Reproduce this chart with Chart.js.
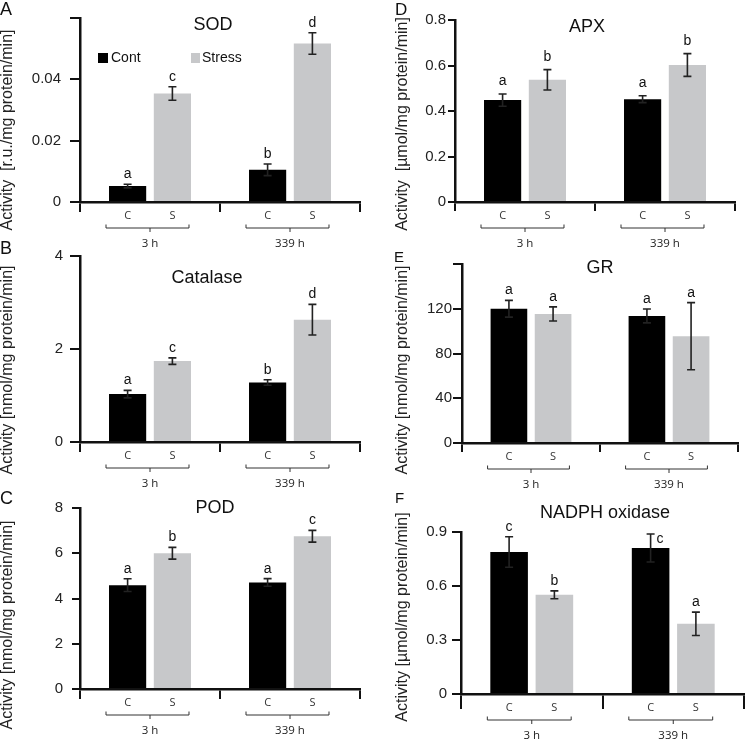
<!DOCTYPE html>
<html>
<head>
<meta charset="utf-8">
<script src="https://cdn.jsdelivr.net/npm/chart.js@4.4.1/dist/chart.umd.min.js"></script>
<style>
body { margin: 0; background: #fff; }
#wrap { position: relative; width: 750px; height: 742px; overflow: hidden; }
canvas { position: absolute; }
</style>
</head>
<body>
<div id="wrap"></div>
<script>
// groups on the x axis and the treatment under each bar
const groups = ['3 h', '339 h'];
const subLabels = ['C', 'S'];
const seriesNames = ['Cont', 'Stress'];

// SOD
const sodCont = [0.0052, 0.0105];
const sodContErr = [0.0006, 0.0019];
const sodStress = [0.0354, 0.0517];
const sodStressErr = [0.0022, 0.0035];
const sodLetters = [['a', 'b'], ['c', 'd']];

// Catalase
const catCont = [1.03, 1.28];
const catContErr = [0.08, 0.06];
const catStress = [1.74, 2.63];
const catStressErr = [0.07, 0.33];
const catLetters = [['a', 'b'], ['c', 'd']];

// POD
const podCont = [4.59, 4.71];
const podContErr = [0.28, 0.17];
const podStress = [6.0, 6.75];
const podStressErr = [0.26, 0.26];
const podLetters = [['a', 'a'], ['b', 'c']];

// APX
const apxCont = [0.448, 0.452];
const apxContErr = [0.027, 0.015];
const apxStress = [0.537, 0.602];
const apxStressErr = [0.045, 0.05];
const apxLetters = [['a', 'a'], ['b', 'b']];

// GR
const grCont = [120, 113.6];
const grContErr = [7.5, 6.2];
const grStress = [115.4, 95.5];
const grStressErr = [6.3, 30];
const grLetters = [['a', 'a'], ['a', 'a']];

// NADPH oxidase
const noxCont = [0.789, 0.811];
const noxContErr = [0.085, 0.078];
const noxStress = [0.551, 0.39];
const noxStressErr = [0.022, 0.065];
const noxLetters = [['c', 'c'], ['b', 'a']];

const W = 375, H = 252;
const BLACK = '#000000', GREY = '#c7c8ca';

const panels = [
  { letter: 'A', letterFont: 18, letterPos: [0, 10], title: 'SOD', titlePos: [213, 25],
    yTitle: 'Activity  [r.u./mg protein/min]', yTitlePos: [8, 130],
    left: 0, top: 0, area: { l: 80, t: 11, r: 360, b: 202 },
    max: 0.06, step: 0.02, hideTop: true, yTick: 10, yPad: 9, xTick: 10,
    data: [sodCont, sodStress], err: [sodContErr, sodStressErr], letters: sodLetters, legend: true },
  { letter: 'B', letterFont: 18, letterPos: [0, 9], title: 'Catalase', titlePos: [207, 38],
    yTitle: 'Activity [nmol/mg protein/min]', yTitlePos: [8, 130],
    left: 0, top: 240, area: { l: 80, t: 11, r: 360, b: 202 },
    max: 4, step: 2, hideTop: false, yTick: 10, yPad: 7, xTick: 10,
    data: [catCont, catStress], err: [catContErr, catStressErr], letters: catLetters },
  { letter: 'C', letterFont: 18, letterPos: [0, 9], title: 'POD', titlePos: [215, 18],
    yTitle: 'Activity [nmol/mg protein/min]', yTitlePos: [8, 135],
    left: 0, top: 490, area: { l: 80, t: 9, r: 360, b: 199 },
    max: 8, step: 2, hideTop: false, yTick: 8, yPad: 9, xTick: 10,
    data: [podCont, podStress], err: [podContErr, podStressErr], letters: podLetters },
  { letter: 'D', letterFont: 17, letterPos: [20, 10], title: 'APX', titlePos: [212, 27],
    yTitle: 'Activity  [\u00b5mol/mg protein/min]', yTitlePos: [28, 124],
    left: 375, top: 0, area: { l: 80, t: 20, r: 360, b: 202 },
    max: 0.8, step: 0.2, hideTop: false, yTick: 7, yPad: 2, xTick: 9,
    data: [apxCont, apxStress], err: [apxContErr, apxStressErr], letters: apxLetters, letterGap: 9 },
  { letter: 'E', letterFont: 15, letterPos: [19, 18], title: 'GR', titlePos: [225, 28],
    yTitle: 'Activity [nmol/mg protein/min]', yTitlePos: [28, 130],
    left: 375, top: 240, area: { l: 87, t: 24, r: 363, b: 203 },
    max: 160, step: 40, hideTop: true, yTick: 9, yPad: 1, xTick: 9,
    data: [grCont, grStress], err: [grContErr, grStressErr], letters: grLetters },
  { letter: 'F', letterFont: 15, letterPos: [20, 9], title: 'NADPH oxidase', titlePos: [230, 23],
    yTitle: 'Activity [\u00b5mol/mg protein/min]', yTitlePos: [28, 127],
    left: 375, top: 490, area: { l: 86, t: 42, r: 369, b: 204 },
    max: 0.9, step: 0.3, hideTop: false, yTick: 9, yPad: 5, xTick: 15,
    data: [noxCont, noxStress], err: [noxContErr, noxStressErr], letters: noxLetters,
    sideLetter: [[false, true], [false, false]] }
];

Chart.defaults.font.family = "'Liberation Sans', Arial, sans-serif";
Chart.defaults.color = '#222';

function makeDecor(p) {
  return {
    id: 'decor',
    afterDraw(chart) {
      const ctx = chart.ctx;
      const ys = chart.scales.y, xs = chart.scales.x;
      const zero = ys.getPixelForValue(0);
      ctx.save();

      // error bars + significance letters
      for (let i = 0; i < 2; i++) {
        const meta = chart.getDatasetMeta(i);
        meta.data.forEach((bar, j) => {
          const v = p.data[i][j], e = p.err[i][j];
          const yt = ys.getPixelForValue(v + e), yb = ys.getPixelForValue(v - e);
          ctx.strokeStyle = '#222';
          ctx.lineWidth = 1.6;
          ctx.beginPath();
          ctx.moveTo(bar.x, yt); ctx.lineTo(bar.x, yb);
          ctx.moveTo(bar.x - 4, yt); ctx.lineTo(bar.x + 4, yt);
          ctx.moveTo(bar.x - 4, yb); ctx.lineTo(bar.x + 4, yb);
          ctx.stroke();

          ctx.fillStyle = '#111';
          ctx.font = "14px 'Liberation Sans', Arial, sans-serif";
          const side = p.sideLetter && p.sideLetter[i][j];
          if (side) {
            ctx.textAlign = 'left';
            ctx.textBaseline = 'alphabetic';
            ctx.fillText(p.letters[i][j], bar.x + 6, yt + 9);
          } else {
            ctx.textAlign = 'center';
            ctx.textBaseline = 'alphabetic';
            ctx.fillText(p.letters[i][j], bar.x, yt - (p.letterGap || 6));
          }
        });
      }

      // C / S under bars and the group brackets
      ctx.font = "11px 'Open Sans', sans-serif";
      ctx.fillStyle = '#333';
      ctx.textAlign = 'center';
      ctx.textBaseline = 'middle';
      const m0 = chart.getDatasetMeta(0), m1 = chart.getDatasetMeta(1);
      groups.forEach((g, j) => {
        const bc = m0.data[j], bs = m1.data[j];
        ctx.fillText(subLabels[0], bc.x, zero + 14);
        ctx.fillText(subLabels[1], bs.x, zero + 14);
        const x1 = bc.x - bc.width / 2 - 3, x2 = bs.x + bs.width / 2 - 2;
        const yb = zero + 26;
        const xm = xs.getPixelForValue(j);
        ctx.strokeStyle = '#333';
        ctx.lineWidth = 1;
        ctx.beginPath();
        ctx.moveTo(x1, yb - 3.5); ctx.lineTo(x1, yb); ctx.lineTo(x2, yb); ctx.lineTo(x2, yb - 3.5);
        ctx.moveTo(xm, yb); ctx.lineTo(xm, yb + 4);
        ctx.stroke();
      });

      // panel title
      ctx.fillStyle = '#111';
      ctx.font = "18px 'Liberation Sans', Arial, sans-serif";
      ctx.textAlign = 'center';
      ctx.textBaseline = 'middle';
      ctx.fillText(p.title, p.titlePos[0], p.titlePos[1]);

      // panel letter
      ctx.font = p.letterFont + "px 'Liberation Sans', Arial, sans-serif";
      ctx.textAlign = 'left';
      ctx.fillText(p.letter, p.letterPos[0], p.letterPos[1]);

      // y axis title
      ctx.save();
      ctx.translate(p.yTitlePos[0], p.yTitlePos[1]);
      ctx.rotate(-Math.PI / 2);
      ctx.font = "16px 'Liberation Sans', Arial, sans-serif";
      ctx.fillStyle = '#222';
      ctx.textAlign = 'center';
      ctx.textBaseline = 'middle';
      ctx.fillText(p.yTitle, 0, 0);
      ctx.restore();

      // legend (panel A only)
      if (p.legend) {
        ctx.font = "14px 'Liberation Sans', Arial, sans-serif";
        ctx.textAlign = 'left';
        ctx.textBaseline = 'middle';
        ctx.fillStyle = BLACK;
        ctx.fillRect(98, 53, 10, 10);
        ctx.fillStyle = '#111';
        ctx.fillText(seriesNames[0], 111, 58);
        ctx.fillStyle = GREY;
        ctx.fillRect(191, 53, 9, 10);
        ctx.fillStyle = '#111';
        ctx.fillText(seriesNames[1], 202, 58);
      }
      ctx.restore();
    }
  };
}

const wrap = document.getElementById('wrap');
panels.forEach(p => {
  const cv = document.createElement('canvas');
  cv.width = W; cv.height = H;
  cv.style.left = p.left + 'px';
  cv.style.top = p.top + 'px';
  cv.style.width = W + 'px';
  cv.style.height = H + 'px';
  wrap.appendChild(cv);

  new Chart(cv.getContext('2d'), {
    type: 'bar',
    data: {
      labels: groups,
      datasets: [
        { label: seriesNames[0], data: p.data[0], backgroundColor: BLACK, borderWidth: 0 },
        { label: seriesNames[1], data: p.data[1], backgroundColor: GREY, borderWidth: 0 }
      ]
    },
    options: {
      responsive: false,
      animation: false,
      devicePixelRatio: 1,
      categoryPercentage: 0.64,
      barPercentage: 0.83,
      layout: { padding: { left: 0, top: p.area.t, right: W - p.area.r, bottom: 0 } },
      plugins: { legend: { display: false }, tooltip: { enabled: false } },
      scales: {
        x: {
          z: 1,
          grid: { offset: true, drawOnChartArea: false, tickLength: p.xTick, color: '#111', lineWidth: 2 },
          border: { color: '#111', width: 2.5 },
          ticks: { padding: 42 - p.xTick - 7, font: { family: "'Open Sans', sans-serif", size: 11.5 }, color: '#222' },
          afterFit(s) { s.height = H - p.area.b; }
        },
        y: {
          z: 1,
          min: 0,
          max: p.max,
          grid: { drawOnChartArea: false, tickLength: p.yTick, color: '#111', lineWidth: 2 },
          border: { color: '#111', width: 2.5 },
          ticks: {
            stepSize: p.step,
            padding: p.yPad,
            font: { size: 15 },
            color: '#222',
            callback(v) {
              if (p.hideTop && Math.abs(v - p.max) < 1e-9) return '';
              return String(Math.round(v * 1000) / 1000);
            }
          },
          afterFit(s) { s.width = p.area.l; }
        }
      }
    },
    plugins: [makeDecor(p)]
  });
});
</script>
</body>
</html>
